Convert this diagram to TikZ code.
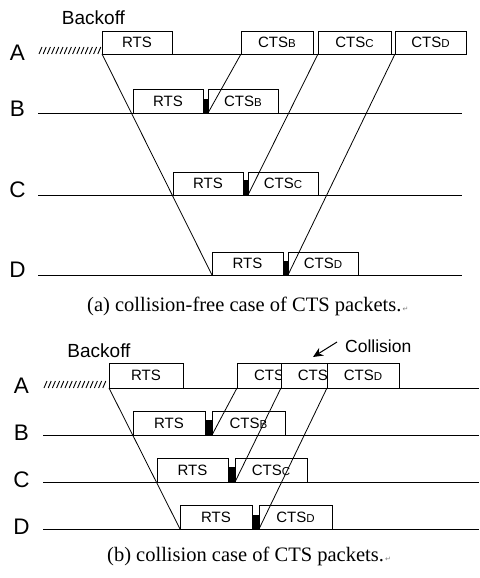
\documentclass[tikz,border=0pt]{standalone}
\usepackage{fontspec}
\setmainfont{Liberation Serif}
\newfontfamily\arial{Liberation Sans}
\newfontfamily\dejavu{DejaVu Sans}
\usetikzlibrary{arrows.meta}
\newcommand{\sub}[1]{{\fontsize{11.5}{11.5}\selectfont #1}}
\newcommand{\pmark}{{\dejavu\fontsize{7}{7}\selectfont\color{gray}\,↵}}
\begin{document}
\begin{tikzpicture}[x=1pt,y=-1pt,
  pkt/.style={draw, fill=white, line width=0.9pt, inner sep=0pt, outer sep=0pt,
    minimum height=23pt, anchor=south west, font=\arial\fontsize{15}{15}\selectfont},
  pktb/.style={pkt, minimum height=24pt},
  blk/.style={fill=black, draw=none, inner sep=0pt, outer sep=0pt, minimum width=5pt, anchor=south west},
  tl/.style={line width=0.9pt},
  sig/.style={line width=0.8pt},
  lab/.style={font=\arial\fontsize{22.5}{22.5}\selectfont, inner sep=0pt},
  hatch/.style={line width=0.9pt},
  captxt/.style={font=\fontsize{20.5}{22}\selectfont, inner sep=0pt, anchor=base west}
]
\useasboundingbox (0,0) rectangle (479,578);

% ================= (a) =================
\node[font=\arial\fontsize{19}{19}\selectfont, inner sep=0pt] (bkA) at (93.5,18) {Backoff};
\node[lab] (la) at (17.5,53) {A};
\node[lab] (lb) at (17.5,109) {B};
\node[lab] (lc) at (17.5,190) {C};
\node[lab] (ld) at (17.5,270) {D};

\coordinate (aAs) at (102,54); \coordinate (aAe) at (462,54);
\coordinate (aBs) at (38,113); \coordinate (aBe) at (462,113);
\coordinate (aCs) at (38,195); \coordinate (aCe) at (462,195);
\coordinate (aDs) at (38,275); \coordinate (aDe) at (462,275);

\draw[tl] (aAs) -- (aAe);
\draw[tl] (aBs) -- (aBe);
\draw[tl] (aCs) -- (aCe);
\draw[tl] (aDs) -- (aDe);
\foreach \i in {0,...,14} {\draw[hatch] (39+4.2*\i,54) -- (42+4.2*\i,47);}

\node[pkt, minimum width=70pt] (rtsAa) at (102,54) {RTS};
\node[pkt, minimum width=72pt] (cBa) at (241,54) {CTS\sub{B}};
\node[pkt, minimum width=73pt] (cCa) at (318,54) {CTS\sub{C}};
\node[pkt, minimum width=71pt] (cDa) at (395,54) {CTS\sub{D}};

\node[pkt, minimum width=70pt, minimum height=24pt] (rtsBa) at (133,113) {RTS};
\node[blk, minimum height=14pt] (barBa) at (203,113) {};
\node[pkt, minimum width=70pt, minimum height=24pt] (cBBa) at (208,113) {CTS\sub{B}};

\node[pkt, minimum width=70pt] (rtsCa) at (173,195) {RTS};
\node[blk, minimum height=15pt] (barCa) at (243,195) {};
\node[pkt, minimum width=70pt] (cCCa) at (248,195) {CTS\sub{C}};

\node[pkt, minimum width=71pt] (rtsDa) at (212,275) {RTS};
\node[blk, minimum height=14pt] (barDa) at (283,275) {};
\node[pkt, minimum width=70pt] (cDDa) at (288,275) {CTS\sub{D}};

\draw[sig] (rtsAa.south west) -- (rtsDa.south west);
\draw[sig] (cBa.south west) -- (cBBa.south west);
\draw[sig] (cCa.south west) -- (cCCa.south west);
\draw[sig] (cDa.south west) -- (cDDa.south west);

\node[captxt] (capa) at (87,311) {(a) collision-free case of CTS packets.\pmark};

% ================= (b) =================
\node[font=\arial\fontsize{19}{19}\selectfont, inner sep=0pt] (bkB) at (99,351) {Backoff};
\node[lab] (lab) at (21.5,386) {A};
\node[lab] (lbb) at (21.5,433) {B};
\node[lab] (lcb) at (21.5,480) {C};
\node[lab] (ldb) at (21.5,527) {D};

\coordinate (bAs) at (109,388); \coordinate (bAe) at (479,388);
\coordinate (bBs) at (43,435); \coordinate (bBe) at (479,435);
\coordinate (bCs) at (43,482); \coordinate (bCe) at (479,482);
\coordinate (bDs) at (43,529); \coordinate (bDe) at (479,529);

\draw[tl] (bAs) -- (bAe);
\draw[tl] (bBs) -- (bBe);
\draw[tl] (bCs) -- (bCe);
\draw[tl] (bDs) -- (bDe);
\foreach \i in {0,...,14} {\draw[hatch] (44+4.2*\i,388) -- (47+4.2*\i,381);}

\node[pktb, minimum width=74pt, minimum height=25pt] (rtsAb) at (109,388) {RTS};
\node[pktb, minimum width=72pt, minimum height=25pt] (c1) at (237,388) {CTS\sub{B}};
\node[pktb, minimum width=72pt, minimum height=25pt] (c2) at (281,388) {CTS\sub{C}};
\node[pktb, minimum width=72pt, minimum height=25pt] (c3) at (327,388) {CTS\sub{D}};

\node[pktb, minimum width=72pt] (rtsBb) at (133,435) {RTS};
\node[blk, minimum width=7pt, minimum height=15pt] (barBb) at (205,435) {};
\node[pktb, minimum width=73pt] (cBBb) at (212,435) {CTS\sub{B}};

\node[pktb, minimum width=71pt] (rtsCb) at (157,482) {RTS};
\node[blk, minimum width=7pt, minimum height=15pt] (barCb) at (228,482) {};
\node[pktb, minimum width=72pt] (cCCb) at (235,482) {CTS\sub{C}};

\node[pktb, minimum width=72pt] (rtsDb) at (180,529) {RTS};
\node[blk, minimum width=7pt, minimum height=14pt] (barDb) at (252,529) {};
\node[pktb, minimum width=73pt] (cDDb) at (259,529) {CTS\sub{D}};

\draw[sig] (rtsAb.south west) -- (rtsDb.south west);
\draw[sig] (c1.south west) -- (cBBb.south west);
\draw[sig] (c2.south west) -- (cCCb.south west);
\draw[sig] (c3.south west) -- (cDDb.south west);

\node[font=\arial\fontsize{17.5}{18}\selectfont, inner sep=0pt, anchor=west] (coll) at (345,346) {Collision};
\coordinate (arrS) at (337,342);
\coordinate (arrE) at (313,357);
\draw[line width=1pt, -{Stealth[length=10pt,width=9pt]}] (arrS) -- (arrE);

\node[captxt] (capb) at (107,561) {(b) collision case of CTS packets.\pmark};
\end{tikzpicture}
\end{document}
